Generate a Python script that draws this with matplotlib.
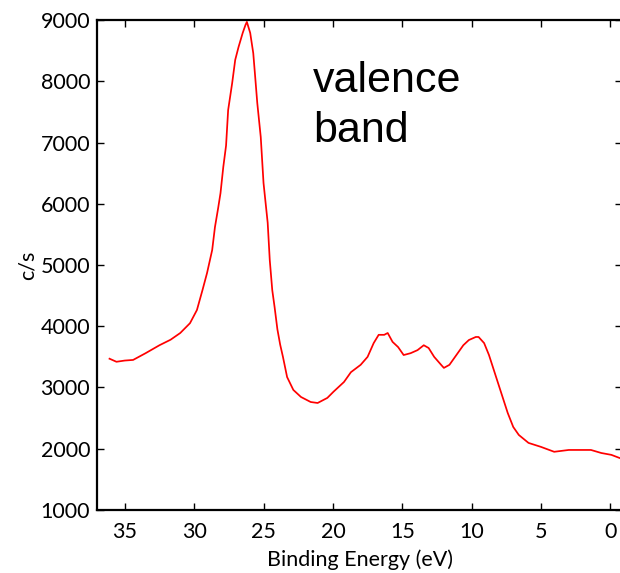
import matplotlib
matplotlib.use("Agg")
import matplotlib.pyplot as plt

# binding energy (eV) and counts per second
energy = [36.1, 35.6, 35.0, 34.4, 33.5, 32.5, 31.7, 31.0, 30.3, 29.8, 29.4, 29.07,
          28.7, 28.5, 28.27, 28.1, 27.9, 27.7, 27.55, 27.26, 27.04, 26.8, 26.5, 26.3,
          26.2, 25.96, 25.74, 25.6, 25.45, 25.2, 25.0, 24.7, 24.55, 24.37, 24.2, 24.0,
          23.8, 23.6, 23.3, 22.85, 22.3, 21.6, 21.1, 20.4, 19.96, 19.2, 18.7, 18.0,
          17.5, 17.06, 16.7, 16.3, 16.05, 15.7, 15.3, 14.9, 14.4, 13.9, 13.45, 13.1,
          12.7, 12.2, 12.0, 11.6, 11.1, 10.6, 10.2, 9.7, 9.5, 9.1, 8.75, 8.4,
          8.1, 7.7, 7.4, 7.0, 6.6, 5.9, 5.0, 4.05, 3.0, 2.1, 1.4, 0.65, -0.07, -0.65]
counts = [3470, 3420, 3440, 3450, 3560, 3690, 3780, 3890, 4050, 4265, 4590, 4870,
          5245, 5620, 5930, 6175, 6600, 6950, 7530, 7970, 8350, 8560, 8790, 8920,
          8970, 8790, 8460, 8070, 7645, 7090, 6340, 5690, 5080, 4590, 4310, 3950,
          3700, 3500, 3170, 2960, 2845, 2763, 2747, 2830, 2930, 3090, 3250, 3370,
          3500, 3725, 3860, 3860, 3890, 3745, 3660, 3530, 3560, 3610, 3690, 3645,
          3500, 3370, 3320, 3370, 3530, 3690, 3775, 3825, 3825, 3725, 3530, 3285,
          3075, 2795, 2585, 2355, 2225, 2095, 2030, 1950, 1980, 1980, 1980, 1930, 1900, 1850]

xticks = [35, 30, 25, 20, 15, 10, 5, 0]
yticks = [1000, 2000, 3000, 4000, 5000, 6000, 7000, 8000, 9000]

fig = plt.figure(figsize=(6.2, 5.73), dpi=100)
ax = fig.add_axes([0.1565, 0.110, 0.847, 0.855])

ax.plot(energy, counts, color="#ff0000", lw=1.25)

ax.set_xlim(37.0, -0.85)
ax.set_ylim(1000, 9000)
ax.set_xticks(xticks)
ax.set_yticks(yticks)

tick_font = "Lato"
ax.tick_params(direction="in", length=5, width=1, top=True, right=True,
               labelsize=15.5)
ax.tick_params(axis="x", pad=9)
ax.tick_params(axis="y", pad=5)
for lab in ax.get_xticklabels() + ax.get_yticklabels():
    lab.set_family(tick_font)
for sp in ax.spines.values():
    sp.set_linewidth(1.6)

ax.set_xlabel("Binding Energy (eV)", family=tick_font, fontsize=15.5, labelpad=5)
ax.set_ylabel("c/s", family=tick_font, fontsize=15.5, labelpad=2)

# baseline given is that of the last line ("band")
ax.text(0.505, 0.753, "valence\nband", transform=fig.transFigure,
        family="Liberation Sans", fontsize=31, va="baseline", ha="left",
        linespacing=1.3)

fig.savefig("out.png", dpi=100)
